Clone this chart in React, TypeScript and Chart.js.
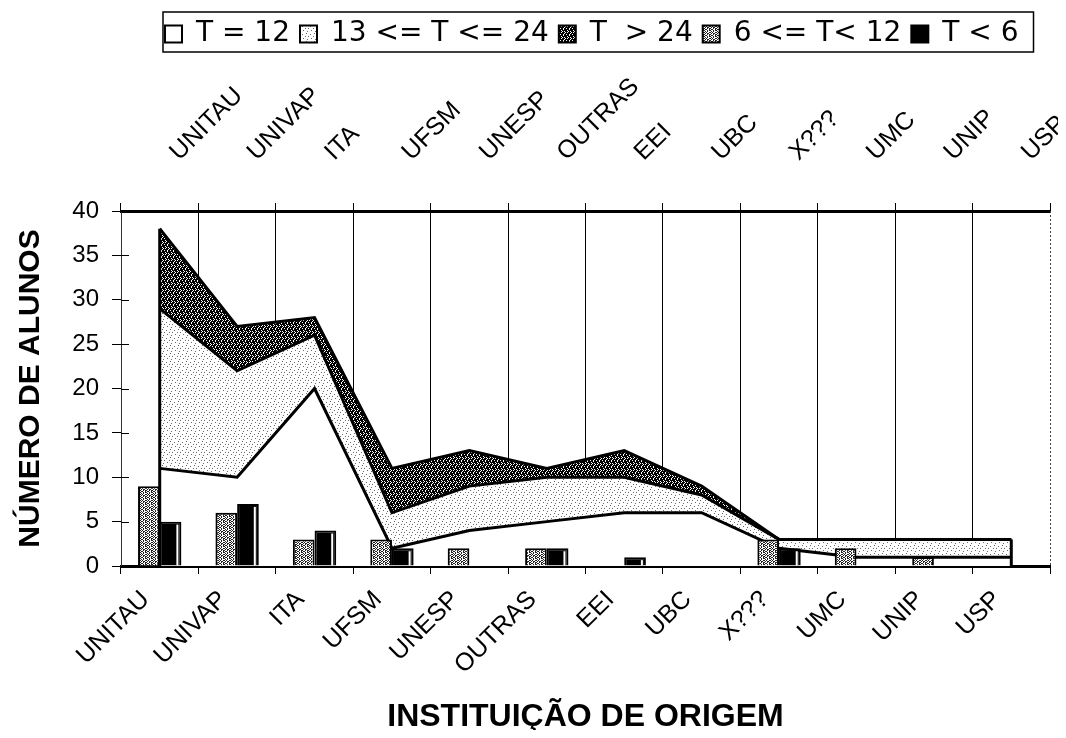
import React, { useEffect, useRef } from 'react';
import { Chart, registerables } from 'chart.js';

Chart.register(...registerables);

// ---------- data ----------
const categories = ['UNITAU', 'UNIVAP', 'ITA', 'UFSM', 'UNESP', 'OUTRAS', 'EEI', 'UBC', 'X???', 'UMC', 'UNIP', 'USP'];
const seriesT12 = [11, 10, 20, 2, 4, 5, 6, 6, 2, 1, 1, 1];
const series13to24 = [18, 12, 6, 4, 5, 5, 4, 2, 1, 2, 2, 2];
const seriesOver24 = [9, 5, 2, 5, 4, 1, 3, 1, 0, 0, 0, 0];
const series6to12 = [9, 6, 3, 3, 2, 2, 0, 0, 3, 2, 1, 0];
const seriesUnder6 = [5, 7, 4, 2, 0, 2, 1, 0, 2, 0, 0, 0];
const seriesLabels = ['T = 12', '13 <= T <= 24', 'T  > 24', '6 <= T< 12', 'T < 6'];
const yMin = 0;
const yMax = 40;
const yStep = 5;
const xTitle = 'INSTITUIÇÃO DE ORIGEM';
const yTitle = 'NÚMERO DE ALUNOS';

// ---------- styles ----------
const FONT = 'Arial, "Liberation Sans", sans-serif';
const LEGEND_FONT = '"DejaVu Sans", Arial, sans-serif';
const W = 1050;
const H = 722;
const AREA_LEFT = 113;
const AREA_RIGHT = 1042;
const AREA_TOP = 203;
const AREA_BOTTOM = 558;
const LEGEND_FIRST_X = 157;

const LIGHT_MASK = [
  '........',
  '..#.....',
  '......#.',
  '........',
  '.#..#...',
  '........',
  '.......#',
  '...#....',
];
const DARK_MASK = [
  '#.###.',
  '####.#',
  '.##.##',
  '###.##',
  '#.####',
  '##.#.#',
];
const MEDIUM_MASK = [
  '#.#..#',
  '.#.##.',
  '#..#.#',
  '.##..#',
  '#..#.#',
  '.#.#..',
];

function makePattern(rows: string[], ink: string, paper: string): CanvasPattern | string {
  const h = rows.length;
  const w = rows[0].length;
  const c = document.createElement('canvas');
  c.width = w;
  c.height = h;
  const g = c.getContext('2d');
  if (!g) return paper;
  g.fillStyle = paper;
  g.fillRect(0, 0, w, h);
  g.fillStyle = ink;
  rows.forEach((r, y) => {
    for (let x = 0; x < w; x++) if (r[x] === '#') g.fillRect(x, y, 1, 1);
  });
  return g.createPattern(c, 'repeat') || paper;
}

const decoPlugin = {
  id: 'deco',
  afterLayout(chart: any) {
    const lg = chart.legend;
    if (!lg || !lg.lineWidths) return;
    const pad = lg.options.labels.padding;
    const start = (lg.left + pad + lg.right - lg.lineWidths[0]) / 2;
    const dx = LEGEND_FIRST_X - start;
    lg.left += dx;
    lg.right += dx;
  },
  afterDatasetDraw(chart: any, args: any) {
    const ctx = chart.ctx;
    const yScale = chart.scales.y;
    const base = yScale.getPixelForValue(0);
    if (args.index === 0) {
      const pts = chart.getDatasetMeta(2).data;
      if (pts.length) {
        ctx.save();
        ctx.strokeStyle = '#000';
        ctx.lineWidth = 3;
        [pts[0], pts[pts.length - 1]].forEach((p: any) => {
          ctx.beginPath();
          ctx.moveTo(p.x, p.y);
          ctx.lineTo(p.x, base);
          ctx.stroke();
        });
        ctx.restore();
      }
    }
    if (args.index === 4) {
      const bars = chart.getDatasetMeta(4).data;
      ctx.save();
      ctx.fillStyle = '#fff';
      bars.forEach((b: any) => {
        const hgt = b.base - b.y;
        if (hgt > 6) ctx.fillRect(b.x + b.width / 2 - 5, b.y + 3, 2, hgt - 3);
      });
      ctx.restore();
    }
  },
  afterDraw(chart: any) {
    const ctx = chart.ctx;
    const area = chart.chartArea;
    const yScale = chart.scales.y;
    ctx.save();
    ctx.strokeStyle = '#000';
    ctx.lineWidth = 1;
    yScale.ticks.forEach((t: any) => {
      const py = Math.round(yScale.getPixelForValue(t.value)) + 0.5;
      ctx.beginPath();
      ctx.moveTo(area.left, py);
      ctx.lineTo(area.left + 8, py);
      ctx.stroke();
    });
    ctx.strokeStyle = '#444';
    ctx.setLineDash([2, 2]);
    ctx.beginPath();
    ctx.moveTo(area.right + 0.5, area.top);
    ctx.lineTo(area.right + 0.5, area.bottom);
    ctx.stroke();
    ctx.setLineDash([]);
    const hb = chart.legend && chart.legend.legendHitBoxes;
    if (hb && hb.length) {
      const first = hb[0];
      const last = hb[hb.length - 1];
      const cy = first.top + first.height / 2;
      ctx.strokeStyle = '#000';
      ctx.lineWidth = 1.5;
      ctx.strokeRect(first.left - 2, cy - 22, last.left + last.width - first.left + 17, 40);
    }
    ctx.restore();
  },
};

function noSidePadding(s: any) {
  s.paddingLeft = 0;
  s.paddingRight = 0;
}

export default function App() {
  const ref = useRef<HTMLCanvasElement | null>(null);

  useEffect(() => {
    const canvas = ref.current;
    if (!canvas) return;
    const light = makePattern(LIGHT_MASK, '#6a6a6a', '#ffffff');
    const dark = makePattern(DARK_MASK, '#000000', '#ffffff');
    const medium = makePattern(MEDIUM_MASK, '#222222', '#ffffff');

    const lineCommon = {
      type: 'line' as const,
      stack: 'area',
      order: 1,
      borderColor: '#000',
      borderWidth: 3,
      pointRadius: 0,
      pointHoverRadius: 0,
      tension: 0,
      borderJoinStyle: 'miter' as const,
    };

    const chart = new Chart(canvas, {
      type: 'bar',
      data: {
        labels: categories,
        datasets: [
          { ...lineCommon, label: seriesLabels[0], data: seriesT12, fill: 'origin', backgroundColor: '#ffffff' },
          { ...lineCommon, label: seriesLabels[1], data: series13to24, fill: '-1', backgroundColor: light },
          { ...lineCommon, label: seriesLabels[2], data: seriesOver24, fill: '-1', backgroundColor: dark },
          {
            type: 'bar', label: seriesLabels[3], data: series6to12, stack: 'b1', order: 0,
            backgroundColor: medium, borderColor: '#000', borderWidth: 2,
            barPercentage: 1, categoryPercentage: 0.56,
          },
          {
            type: 'bar', label: seriesLabels[4], data: seriesUnder6, stack: 'b2', order: 0,
            backgroundColor: '#000', borderColor: '#000', borderWidth: 2,
            barPercentage: 1, categoryPercentage: 0.56,
          },
        ] as any,
      },
      options: {
        animation: false,
        responsive: true,
        maintainAspectRatio: false,
        layout: { padding: { left: 0, right: W - AREA_RIGHT, top: 2, bottom: 0 } },
        plugins: {
          tooltip: { enabled: false },
          legend: {
            display: true,
            position: 'top',
            labels: {
              color: '#000',
              font: { family: LEGEND_FONT, size: 28 },
              boxWidth: 17,
              boxHeight: 17,
              padding: 10,
              generateLabels: (ch: any) =>
                (Chart.defaults.plugins.legend.labels.generateLabels as any)(ch)
                  .map((l: any) => ({ ...l, lineWidth: 2, strokeStyle: '#000' }))
                  .sort((a: any, b: any) => a.datasetIndex - b.datasetIndex),
            },
          },
        },
        scales: {
          x: {
            type: 'category',
            position: 'bottom',
            offset: true,
            grid: {
              offset: true,
              color: (c: any) => (c.type !== 'tick' || c.index === 0 ? 'rgba(0,0,0,0)' : '#000'),
              tickColor: '#000',
              lineWidth: 1,
              tickLength: 8,
            },
            border: { display: true, color: '#000', width: 3 },
            ticks: {
              color: '#000',
              font: { family: FONT, size: 25 },
              minRotation: 45,
              maxRotation: 45,
              autoSkip: false,
              padding: 11,
              labelOffset: -14,
            },
            title: {
              display: true,
              text: xTitle,
              color: '#000',
              font: { family: FONT, size: 32, weight: 'bold' },
              padding: { top: 0, bottom: -6 },
            },
            afterFit: (s: any) => {
              s.height = H - AREA_BOTTOM;
              noSidePadding(s);
            },
          },
          xTop: {
            type: 'category',
            axis: 'x',
            position: 'top',
            labels: categories,
            offset: true,
            grid: {
              offset: true,
              drawOnChartArea: false,
              color: '#000',
              tickColor: '#000',
              tickLength: 8,
            },
            border: { display: true, color: '#000', width: 3 },
            ticks: {
              color: '#000',
              font: { family: FONT, size: 25 },
              minRotation: 45,
              maxRotation: 45,
              autoSkip: false,
              padding: 36,
              labelOffset: 36,
            },
            afterFit: (s: any) => {
              const lh = s.chart.legend && s.chart.legend.height ? s.chart.legend.height : 48;
              s.height = AREA_TOP - 2 - lh;
              noSidePadding(s);
            },
          } as any,
          y: {
            type: 'linear',
            position: 'left',
            stacked: true,
            min: yMin,
            max: yMax,
            grid: {
              drawOnChartArea: false,
              drawTicks: true,
              tickLength: 9,
              color: '#000',
              tickColor: '#000',
            },
            border: { display: true, color: '#333', width: 1, dash: [2, 2] },
            ticks: {
              stepSize: yStep,
              color: '#000',
              font: { family: FONT, size: 24 },
              padding: 13,
            },
            title: {
              display: true,
              text: yTitle,
              color: '#000',
              font: { family: FONT, size: 30, weight: 'bold' },
              padding: { top: 5, bottom: 0 },
            },
            afterFit: (s: any) => {
              s.width = AREA_LEFT;
              s.paddingTop = 0;
              s.paddingBottom = 0;
            },
          },
        },
      } as any,
      plugins: [decoPlugin],
    });

    return () => {
      chart.destroy();
    };
  }, []);

  return (
    <div style={{ position: 'relative', width: W, height: H }}>
      <canvas ref={ref} />
    </div>
  );
}
